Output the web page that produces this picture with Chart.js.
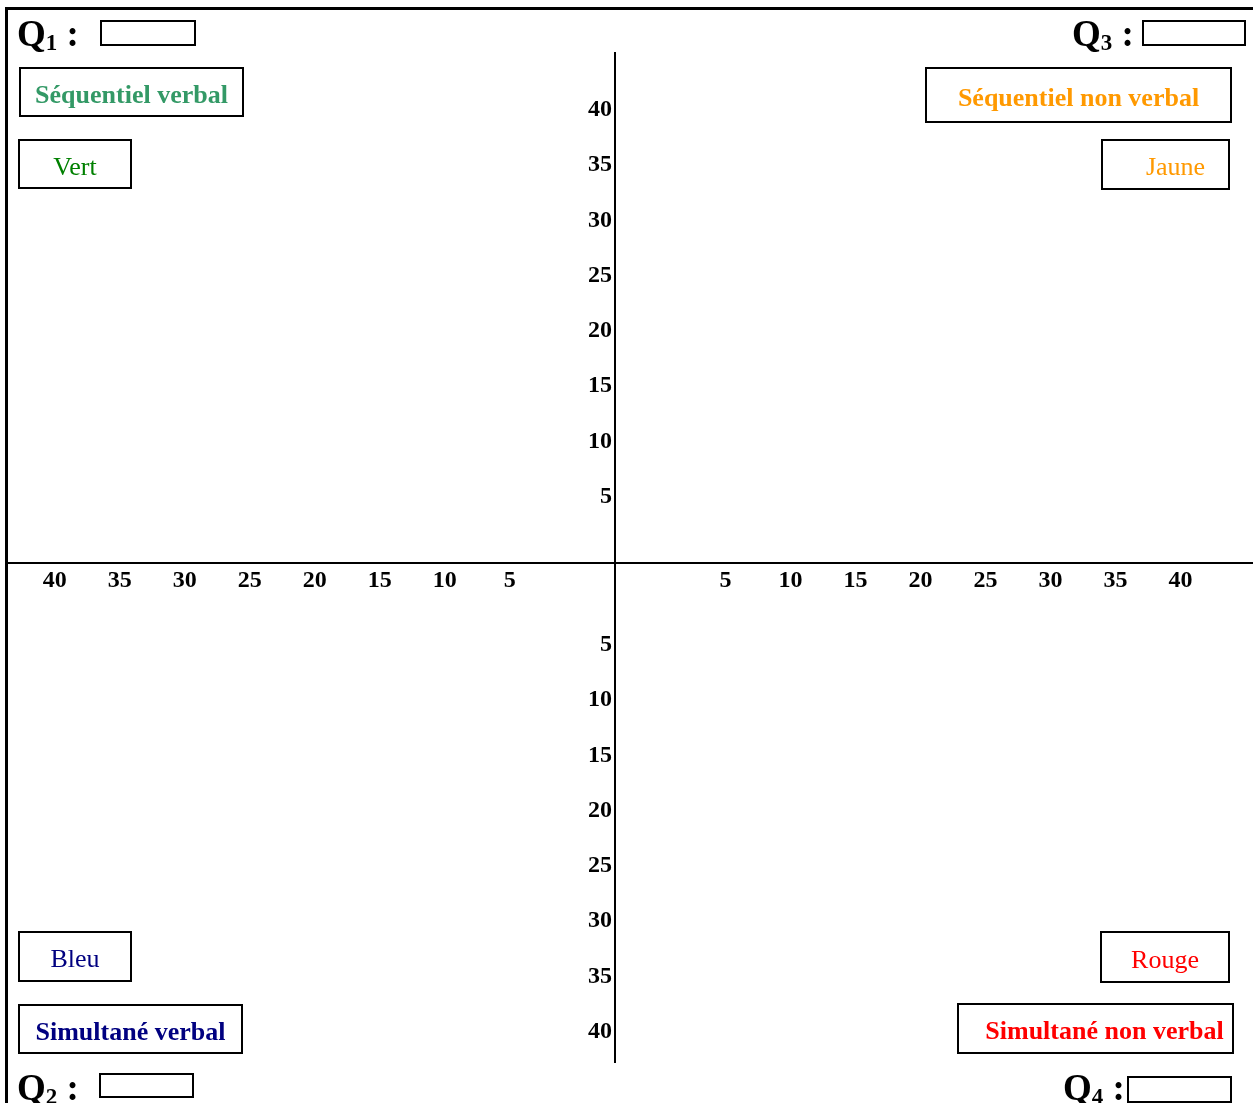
<!DOCTYPE html>
<html>
<head>
<meta charset="utf-8">
<script src="https://cdn.jsdelivr.net/npm/chart.js@4"></script>
<style>
  body { margin: 0; background: #fff; }
  #wrap { position: relative; width: 1253px; height: 1103px; overflow: hidden; }
  #frame { position: absolute; left: 5px; top: 7px; width: 1400px; height: 1200px;
           border-top: 3px solid #000; border-left: 3px solid #000; }
  canvas { position: absolute; left: 0; top: 0; }
  .box { position: absolute; border: 2px solid #000; box-sizing: border-box; padding-top: 5px;
         font-family: 'Liberation Serif', 'Times New Roman', serif; font-size: 26px;
         display: flex; align-items: center; justify-content: center; white-space: nowrap; }
  .bold { font-weight: bold; }
  .q { position: absolute; font-family: 'Liberation Serif', 'Times New Roman', serif;
       font-weight: bold; font-size: 37px; line-height: 37px; white-space: nowrap; }
  .q sub { font-size: 23px; vertical-align: -4px; line-height: 0; }
  .qbox { position: absolute; border: 2px solid #000; box-sizing: border-box; }
</style>
</head>
<body>
<div id="wrap">
  <div id="frame"></div>
  <canvas id="quadrants" width="1253" height="1103"></canvas>
</div>
<script>
/* ---------- data ---------- */

const tickValues = [5, 10, 15, 20, 25, 30, 35, 40];
const quadrantNames = ["1", "3", "2", "4"];
const styleNames = ["Séquentiel verbal", "Séquentiel non verbal", "Simultané verbal", "Simultané non verbal"];
const colourNames = ["Vert", "Jaune", "Bleu", "Rouge"];
const colours = ["#339966", "#FF9900", "#000080", "#FF0000"];
const colourWordColours = ["#008000", "#FF9900", "#000080", "#FF0000"];

/* ---------- axis offsets (ticks start a little away from the centre lines) ---------- */

const xGapLeft = 3.1;
const xGapRight = 3.5;
const yGapTop = 1.0;
const yGapBottom = 2.42;
const yLabelShift = -0.23; // labels sit just left of the vertical line

const tickFont = { family: "'Liberation Serif', 'Times New Roman', serif", size: 24, weight: "bold" };
const yMin = -45.16, yMax = 46.15;

function yTicks(scale) {
  const bottom = tickValues.map(v => ({ value: -(v + yGapBottom), txt: String(v) }));
  const top = tickValues.map(v => ({ value: v + yGapTop, txt: String(v) }));
  scale.ticks = bottom.reverse().concat(top);
}

/* ---------- chart ---------- */

const chart = new Chart(document.getElementById("quadrants"), {
  type: "scatter",
  data: { datasets: [] },
  options: {
    responsive: false,
    animation: false,
    events: [],
    layout: { padding: { left: 7, top: 53, right: 0, bottom: 41 } },
    plugins: { legend: { display: false }, tooltip: { enabled: false } },
    scales: {
      x: {
        type: "linear",
        min: -46.77,
        max: 49.08,
        position: { y: 0 },
        grid: { display: false, drawTicks: false },
        border: { display: true, color: "#000", width: 2 },
        ticks: {
          autoSkip: false,
          maxRotation: 0,
          padding: 3,
          color: "#000",
          font: tickFont,
          callback: (v, i, ticks) => ticks[i].txt
        },
        afterBuildTicks: (scale) => {
          const left = tickValues.map(v => ({ value: -(v + xGapLeft), txt: String(v) }));
          const right = tickValues.map(v => ({ value: v + xGapRight, txt: String(v) }));
          scale.ticks = left.reverse().concat(right);
        }
      },
      y: {
        type: "linear",
        min: yMin,
        max: yMax,
        position: { x: 0 },
        grid: { display: false, drawTicks: false },
        border: { display: true, color: "#000", width: 2 },
        ticks: { display: false }
      },
      yLabels: {
        type: "linear",
        axis: "y",
        min: yMin,
        max: yMax,
        position: { x: yLabelShift },
        grid: { display: false, drawTicks: false },
        border: { display: false },
        ticks: {
          autoSkip: false,
          padding: 0,
          color: "#000",
          font: tickFont,
          callback: (v, i, ticks) => ticks[i].txt
        },
        afterBuildTicks: yTicks
      }
    }
  }
});

/* ---------- labels around the quadrants ---------- */

const wrap = document.getElementById("wrap");

function addDiv(cls, html, css) {
  const d = document.createElement("div");
  d.className = cls;
  d.innerHTML = html;
  Object.assign(d.style, css);
  wrap.appendChild(d);
  return d;
}

// Q labels and their empty answer boxes
const qLayout = [
  { text: { left: "17px", top: "15px" }, box: { left: "100px", top: "20px", width: "96px", height: "26px" } },
  { text: { left: "1072px", top: "15px" }, box: { left: "1142px", top: "20px", width: "104px", height: "26px" } },
  { text: { left: "17px", top: "1069px" }, box: { left: "99px", top: "1073px", width: "95px", height: "25px" } },
  { text: { left: "1063px", top: "1069px" }, box: { left: "1127px", top: "1076px", width: "105px", height: "27px" } }
];
quadrantNames.forEach((n, i) => {
  addDiv("q", "Q<sub>" + n + "</sub>" + (i === 3 ? " :" : "&nbsp;:"), qLayout[i].text);
  addDiv("qbox", "", qLayout[i].box);
});

// style name boxes (bold) and colour boxes
const styleLayout = [
  { left: "19px", top: "67px", width: "225px", height: "50px" },
  { left: "925px", top: "67px", width: "307px", height: "56px" },
  { left: "18px", top: "1004px", width: "225px", height: "50px" },
  { left: "957px", top: "1003px", width: "277px", height: "51px", paddingLeft: "18px" }
];
const colourLayout = [
  { left: "18px", top: "139px", width: "114px", height: "50px" },
  { left: "1101px", top: "139px", width: "129px", height: "51px", paddingLeft: "20px" },
  { left: "18px", top: "931px", width: "114px", height: "51px" },
  { left: "1100px", top: "931px", width: "130px", height: "52px" }
];
styleNames.forEach((s, i) => {
  addDiv("box bold", s, Object.assign({ color: colours[i] }, styleLayout[i]));
  addDiv("box", colourNames[i], Object.assign({ color: colourWordColours[i] }, colourLayout[i]));
});
</script>
</body>
</html>
